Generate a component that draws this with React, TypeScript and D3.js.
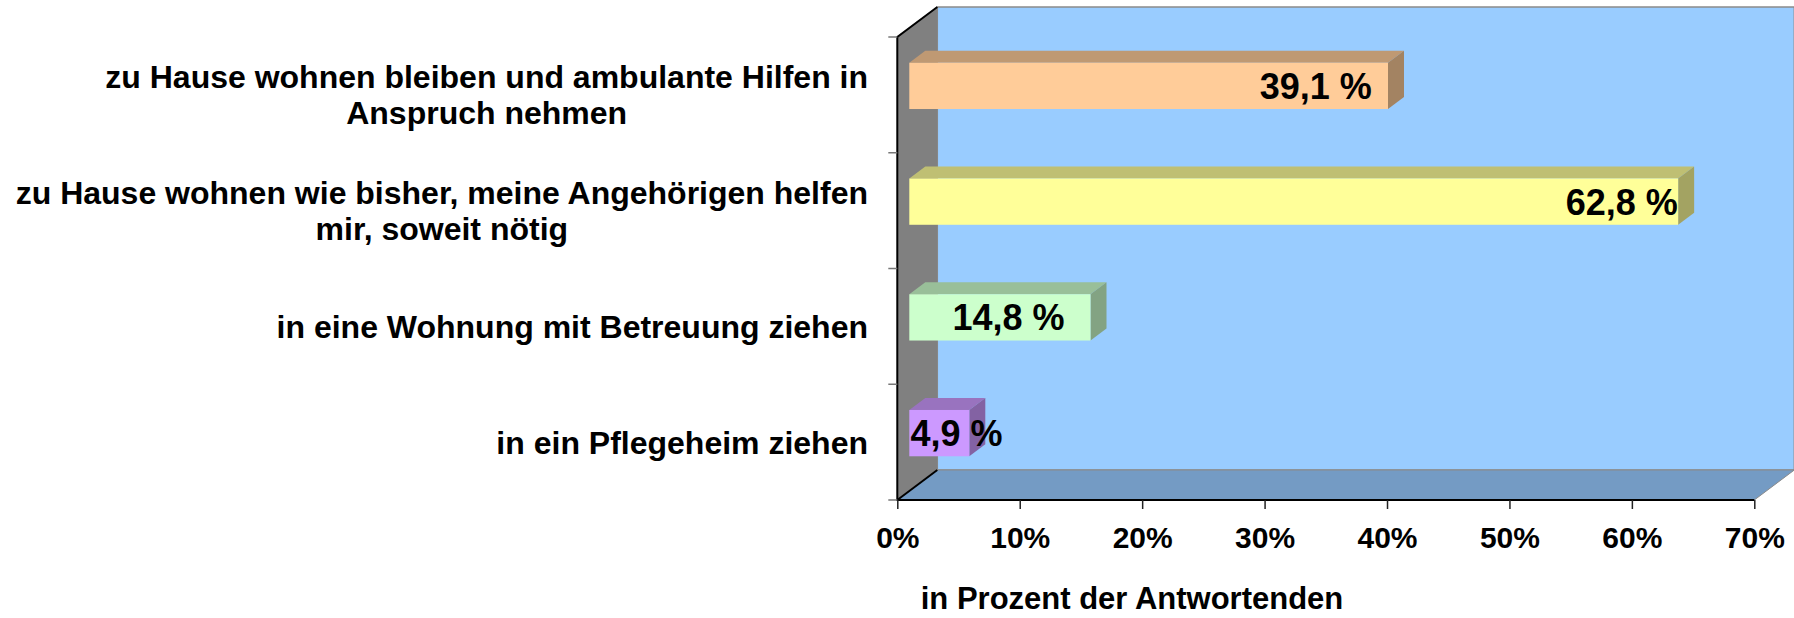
import { useRef, useEffect } from 'react';
import * as d3 from 'd3';

// chart data
const categories: string[][] = [
  ['zu Hause wohnen bleiben und ambulante Hilfen in', 'Anspruch nehmen'],
  ['zu Hause wohnen wie bisher, meine Angehörigen helfen', 'mir, soweit nötig'],
  ['in eine Wohnung mit Betreuung ziehen'],
  ['in ein Pflegeheim ziehen'],
];
const values = [39.1, 62.8, 14.8, 4.9];
const valueLabels = ['39,1 %', '62,8 %', '14,8 %', '4,9 %'];
// where the value label sits, in axis units
const labelAt = [33.2, 58.2, 8.1, 3.85];
const ticks = [0, 10, 20, 30, 40, 50, 60, 70];
const axisTitle = 'in Prozent der Antwortenden';

const barColors = ['#FFCC99', '#FFFF99', '#CCFFCC', '#CC99FF'];

const FONT = '"Liberation Sans", Arial, Helvetica, sans-serif';

export default function App() {
  const ref = useRef<SVGSVGElement | null>(null);

  useEffect(() => {
    if (!ref.current) return;
    const svg = d3.select(ref.current);
    svg.selectAll('*').remove();

    const W = 1794, H = 618;
    const plot = { left: 897.3, right: 1754.3, top: 37, bottom: 500 };
    const DX = 40, DY = -30;       // 3d depth offset
    const d0 = 0.3, d1 = 0.7;      // bar depth range (fraction of DX/DY)

    svg.attr('width', W).attr('height', H);

    const x = d3.scaleLinear().domain([0, 70]).range([plot.left, plot.right]);
    const y = d3.scaleBand<number>()
      .domain(values.map((_, i) => i))
      .range([plot.top, plot.bottom])
      .paddingInner(0.6)
      .paddingOuter(0.3);
    const step = y.step();

    const poly = (pts: [number, number][]) => 'M' + pts.map(p => p.join(',')).join('L') + 'Z';

    // back wall
    svg.append('path')
      .attr('d', poly([
        [plot.left + DX, plot.top + DY], [plot.right + DX, plot.top + DY],
        [plot.right + DX, plot.bottom + DY], [plot.left + DX, plot.bottom + DY],
      ]))
      .attr('fill', '#99CCFF')
      .attr('stroke', '#8a8a8a').attr('stroke-width', 1.5);

    // side wall
    svg.append('path')
      .attr('d', poly([
        [plot.left, plot.top], [plot.left + DX, plot.top + DY],
        [plot.left + DX, plot.bottom + DY], [plot.left, plot.bottom],
      ]))
      .attr('fill', '#808080');

    // floor
    svg.append('path')
      .attr('d', poly([
        [plot.left, plot.bottom], [plot.right, plot.bottom],
        [plot.right + DX, plot.bottom + DY], [plot.left + DX, plot.bottom + DY],
      ]))
      .attr('fill', '#749BC4')
      .attr('stroke', '#8a8a8a').attr('stroke-width', 1);

    // black edges
    const edges = svg.append('g').attr('stroke', '#000').attr('stroke-width', 2).attr('fill', 'none');
    edges.append('path').attr('d', `M${plot.left + DX},${plot.top + DY}L${plot.left},${plot.top}L${plot.left},${plot.bottom}L${plot.right},${plot.bottom}`);
    edges.append('path').attr('d', `M${plot.left},${plot.bottom}L${plot.left + DX},${plot.bottom + DY}`);

    // category ticks on the left axis
    const catTicks = d3.range(values.length + 1).map(i => plot.top + i * step);
    svg.append('g').selectAll('line').data(catTicks).join('line')
      .attr('x1', plot.left - 9).attr('x2', plot.left)
      .attr('y1', d => d).attr('y2', d => d)
      .attr('stroke', '#777').attr('stroke-width', 1.5);

    // bars
    const bars = svg.append('g');
    values.forEach((v, i) => {
      const base = barColors[i];
      const c = d3.rgb(base);
      const shade = (k: number) => d3.rgb(c.r * k, c.g * k, c.b * k).formatHex();
      const fx0 = x(0) + DX * d0, fx1 = x(v) + DX * d0;
      const fy0 = (y(i) as number) + DY * d0, fy1 = fy0 + y.bandwidth();
      const bx = DX * (d1 - d0), by = DY * (d1 - d0);

      bars.append('path')
        .attr('d', poly([[fx0, fy0], [fx1, fy0], [fx1 + bx, fy0 + by], [fx0 + bx, fy0 + by]]))
        .attr('fill', shade(0.75));
      bars.append('path')
        .attr('d', poly([[fx1, fy0], [fx1 + bx, fy0 + by], [fx1 + bx, fy1 + by], [fx1, fy1]]))
        .attr('fill', shade(0.64));
      bars.append('rect')
        .attr('x', fx0).attr('y', fy0)
        .attr('width', fx1 - fx0).attr('height', fy1 - fy0)
        .attr('fill', base);

      bars.append('text')
        .attr('x', x(labelAt[i]) + DX * d0)
        .attr('y', (fy0 + fy1) / 2 + 13)
        .attr('text-anchor', 'middle')
        .attr('font-family', FONT).attr('font-weight', 'bold').attr('font-size', 36)
        .attr('fill', '#000')
        .text(valueLabels[i]);
    });

    // x axis
    const xAxis = svg.append('g')
      .attr('transform', `translate(0,${plot.bottom})`)
      .call(d3.axisBottom(x).tickValues(ticks).tickSize(9).tickFormat(d => `${d}%`));
    xAxis.select('.domain').remove();
    xAxis.selectAll('.tick line').attr('stroke', '#222').attr('stroke-width', 1.5);
    xAxis.selectAll('.tick text')
      .attr('y', 48).attr('dy', null)
      .attr('font-family', FONT).attr('font-weight', 'bold').attr('font-size', 30)
      .attr('fill', '#000');

    // category labels: right-aligned block, lines centred in it
    const labelRight = 868;
    categories.forEach((lines, i) => {
      const cy = plot.top + (i + 0.5) * step;
      const g = svg.append('g');
      const texts = lines.map((line, j) => {
        const base = lines.length === 1 ? cy + 11.5 : cy - 7 + j * 36;
        return g.append('text')
          .attr('y', base)
          .attr('font-family', FONT).attr('font-weight', 'bold').attr('font-size', 32)
          .attr('fill', '#000')
          .text(line);
      });
      const maxW = d3.max(texts, t => (t.node() as SVGTextElement).getComputedTextLength()) ?? 0;
      texts.forEach(t => t.attr('x', labelRight - maxW / 2).attr('text-anchor', 'middle'));
    });

    // axis title
    svg.append('text')
      .attr('x', 1132).attr('y', 609)
      .attr('text-anchor', 'middle')
      .attr('font-family', FONT).attr('font-weight', 'bold').attr('font-size', 31)
      .attr('fill', '#000')
      .text(axisTitle);
  }, []);

  return (
    <div style={{ position: 'absolute', left: 0, top: 0, width: 1794, height: 618, background: '#fff' }}>
      <svg ref={ref} style={{ display: 'block' }} />
    </div>
  );
}
